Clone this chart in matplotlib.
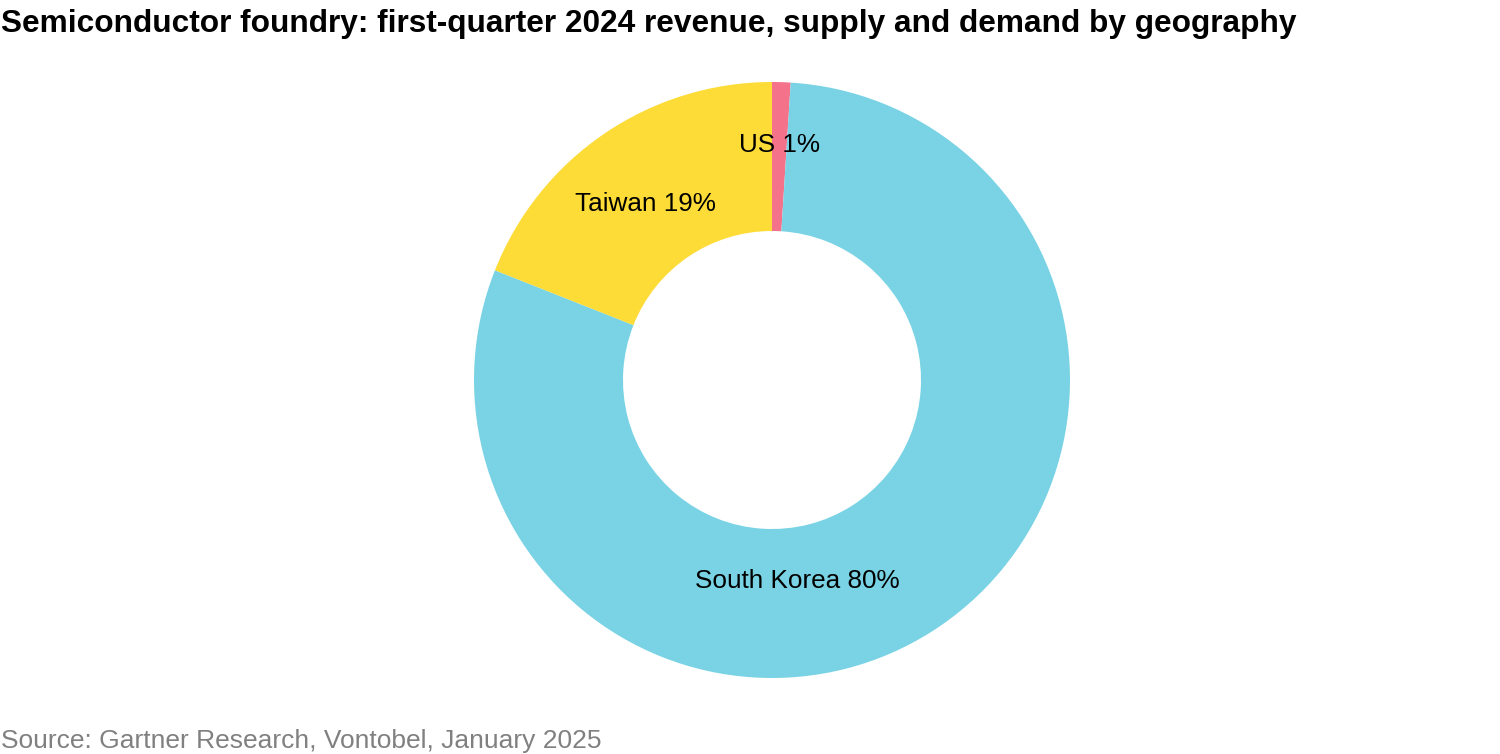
import matplotlib
matplotlib.use('Agg')
import matplotlib.pyplot as plt

plt.rcParams['font.family'] = ['Liberation Sans', 'DejaVu Sans']

# Данные
regions = ['US', 'South Korea', 'Taiwan']
shares = [1, 80, 19]
colors = ['#F4728A', '#79D3E5', '#FDDC38']

# позиции подписей (в координатах осей, радиус = 1)
label_pos = [(0.025, 0.79), (0.085, -0.675), (-0.425, 0.59)]

fig = plt.figure(figsize=(15, 7.54), dpi=100)
ax = fig.add_axes([474 / 1500, 76 / 754, 596 / 1500, 596 / 754])

ax.pie(shares, colors=colors, startangle=90, counterclock=False,
       radius=1, wedgeprops=dict(width=0.5, edgecolor='none'))
ax.set_xlim(-1, 1)
ax.set_ylim(-1, 1)
ax.set_aspect('equal')
ax.axis('off')

for name, val, (x, y) in zip(regions, shares, label_pos):
    ax.text(x, y, f'{name} {val}%', ha='center', va='center', fontsize=18.8, color='black')

fig.text(1 / 1500, 1 - 24 / 754, 'Semiconductor foundry: first-quarter 2024 revenue, supply and demand by geography',
         fontsize=22.8, fontweight='bold', ha='left', va='center')
fig.text(1 / 1500, 1 - 741 / 754, 'Source: Gartner Research, Vontobel, January 2025',
         fontsize=19, color='#808080', ha='left', va='center')

fig.savefig('out.png', dpi=100)
